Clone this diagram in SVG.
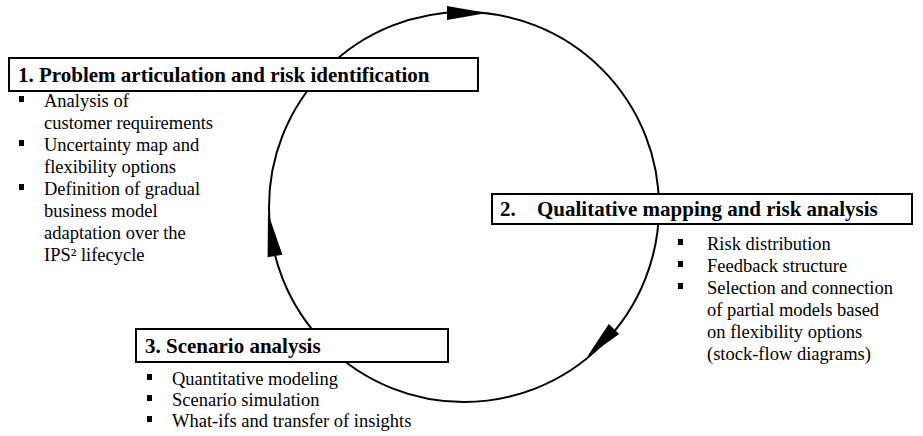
<svg xmlns="http://www.w3.org/2000/svg" width="923" height="436" viewBox="0 0 923 436">
  <style>
    .box { fill: #ffffff; stroke: #000000; stroke-width: 2; }
    .title { font-family: "Liberation Serif", "Times New Roman", serif; font-size: 21px; font-weight: bold; fill: #000000; }
    .item { font-family: "Liberation Serif", "Times New Roman", serif; font-size: 18.5px; fill: #000000; }
    .cycle { fill: none; stroke: #000000; stroke-width: 2; }
    .head { fill: #000000; stroke: none; }
    .dot { fill: #000000; }
  </style>
  <defs>
    <rect id="bullet" class="dot" x="0" y="-6" width="5" height="6"/>
  </defs>
  <rect width="923" height="436" fill="#ffffff"/>

  <!-- clockwise process cycle -->
  <g id="connectors">
    <circle class="cycle" cx="464" cy="207" r="195"/>
    <polygon class="head" points="447,6 447,20 487,13"/>
    <polygon class="head" points="608.8,324 619.2,334 587,357"/>
    <polygon class="head" points="267.6,257.2 282.4,254.8 268,213"/>
  </g>

  <!-- step 1 -->
  <g id="step1">
    <rect class="box" x="9" y="58" width="469" height="33"/>
    <text class="title" x="18" y="82">1. Problem articulation and risk identification</text>
    <use href="#bullet" x="19" y="102"/>
    <text class="item" x="44" y="107">Analysis of</text>
    <text class="item" x="44" y="129">customer requirements</text>
    <use href="#bullet" x="19" y="146"/>
    <text class="item" x="44" y="151">Uncertainty map and</text>
    <text class="item" x="44" y="173">flexibility options</text>
    <use href="#bullet" x="19" y="190"/>
    <text class="item" x="44" y="195">Definition of gradual</text>
    <text class="item" x="44" y="217">business model</text>
    <text class="item" x="44" y="239">adaptation over the</text>
    <text class="item" x="44" y="261">IPS² lifecycle</text>
  </g>

  <!-- step 2 -->
  <g id="step2">
    <rect class="box" x="492" y="194" width="420" height="30"/>
    <text class="title" x="500" y="216">2.</text>
    <text class="title" x="537" y="216">Qualitative mapping and risk analysis</text>
    <use href="#bullet" x="678" y="245"/>
    <text class="item" x="707" y="250">Risk distribution</text>
    <use href="#bullet" x="678" y="267"/>
    <text class="item" x="707" y="272">Feedback structure</text>
    <use href="#bullet" x="678" y="289"/>
    <text class="item" x="707" y="294">Selection and connection</text>
    <text class="item" x="707" y="316">of partial models based</text>
    <text class="item" x="707" y="338">on flexibility options</text>
    <text class="item" x="707" y="360">(stock-flow diagrams)</text>
  </g>

  <!-- step 3 -->
  <g id="step3">
    <rect class="box" x="136" y="329" width="312" height="33"/>
    <text class="title" x="145" y="353">3. Scenario analysis</text>
    <use href="#bullet" x="147" y="380"/>
    <text class="item" x="172" y="385">Quantitative modeling</text>
    <use href="#bullet" x="147" y="401"/>
    <text class="item" x="172" y="406">Scenario simulation</text>
    <use href="#bullet" x="147" y="422"/>
    <text class="item" x="172" y="427">What-ifs and transfer of insights</text>
  </g>
</svg>
